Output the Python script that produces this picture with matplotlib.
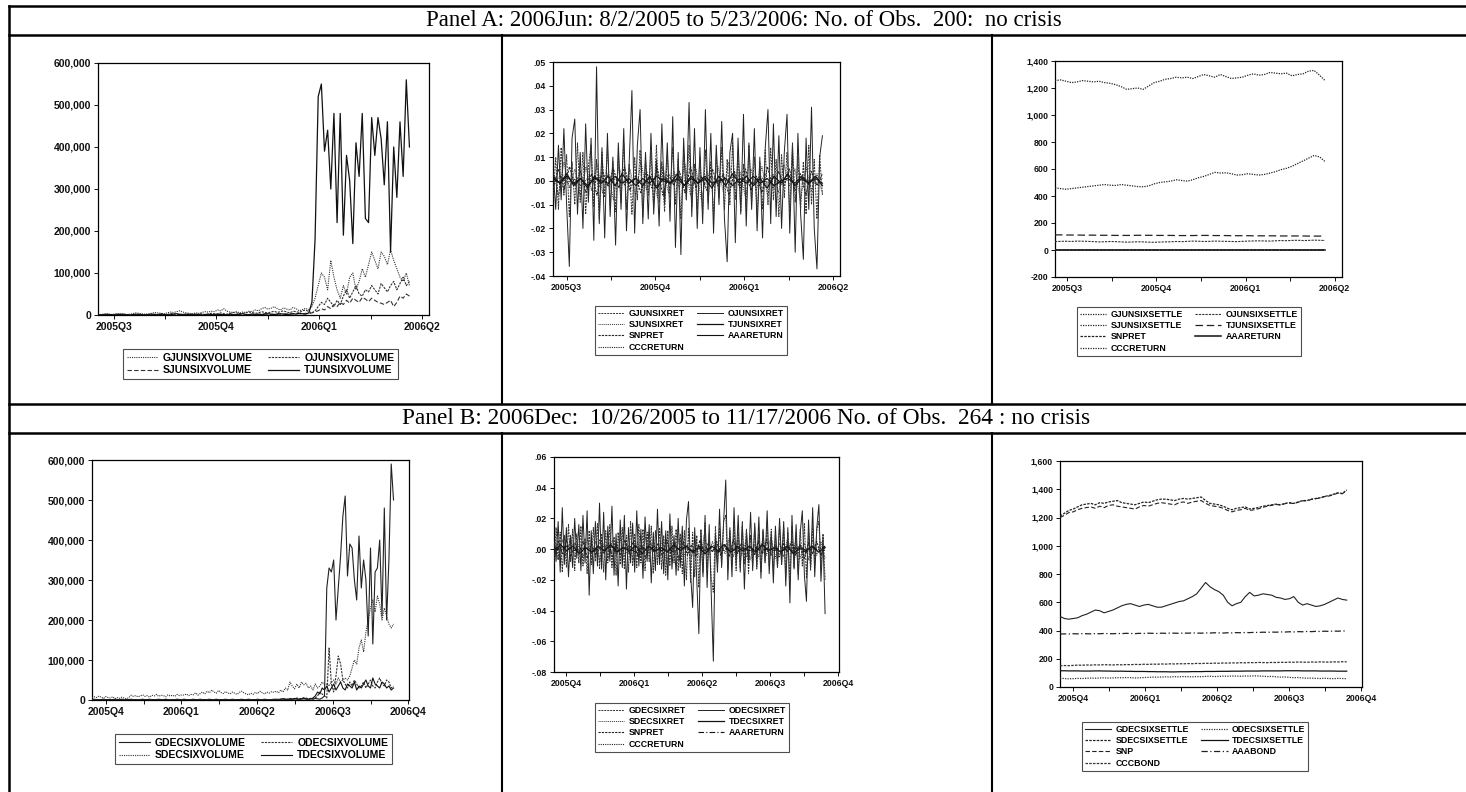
import numpy as np
import matplotlib.pyplot as plt

# ---------------- data ----------------
title_a = "Panel A: 2006Jun: 8/2/2005 to 5/23/2006: No. of Obs.  200:  no crisis"
title_b = "Panel B: 2006Dec:  10/26/2005 to 11/17/2006 No. of Obs.  264 : no crisis"

quarters_a = ["2005Q3", "2005Q4", "2006Q1", "2006Q2"]
quarters_b = ["2005Q4", "2006Q1", "2006Q2", "2006Q3", "2006Q4"]
nobs_a = 200
nobs_b = 264

# Panel A volumes, thousands of contracts (one value per 2 obs)
t_vol_a = [1, 0, 1, 2, 1, 0, 1, 1, 2, 1,
           0, 1, 2, 1, 1, 0, 1, 2, 1, 1,
           2, 1, 0, 1, 2, 3, 1, 1, 2, 1,
           1, 2, 1, 0, 1, 2, 1, 1, 2, 1,
           1, 0, 2, 1, 1, 2, 3, 1, 1, 2,
           1, 2, 1, 2, 3, 2, 1, 2, 3, 2,
           1, 2, 3, 2, 4, 3, 2, 5,
           30, 180, 520, 550, 390, 440, 300, 480, 220, 480,
           190, 380, 320, 170, 410, 330, 480, 230, 220, 470,
           380, 470, 420, 310, 460, 150, 400, 280, 460, 330,
           560, 400]
g_vol_a = [2, 1, 3, 2, 1, 2, 4, 3, 2, 1,
           2, 3, 5, 4, 3, 2, 3, 4, 6, 5,
           4, 3, 5, 7, 6, 8, 10, 7, 5, 4,
           3, 5, 4, 6, 8, 7, 9, 8, 12, 10,
           15, 9, 7, 6, 8, 5, 7, 6, 9, 8,
           12, 10, 15, 18, 14, 16, 20, 15, 12, 17,
           14, 12, 18, 15, 10, 13, 16, 12,
           20, 40, 70, 100, 90, 60, 130, 90, 60, 40,
           70, 50, 90, 100, 60, 80, 110, 90, 120, 150,
           130, 110, 150, 140, 120, 155, 130, 110, 90, 80,
           100, 70]
o_vol_a = [0, 1, 0, 1, 1, 0, 1, 2, 1, 0,
           1, 1, 0, 2, 1, 1, 0, 1, 2, 1,
           3, 2, 1, 4, 3, 2, 1, 2, 1, 3,
           2, 1, 2, 3, 1, 2, 4, 3, 2, 5,
           3, 2, 4, 6, 5, 3, 4, 5, 7, 6,
           4, 5, 8, 6, 5, 7, 9, 6, 8, 10,
           7, 5, 9, 8, 6, 10, 12, 8,
           5, 10, 20, 30, 25, 40, 30, 20, 35, 25,
           45, 60, 40, 55, 70, 50, 45, 60, 55, 70,
           60, 50, 75, 65, 55, 70, 80, 60, 75, 90,
           70, 80]
s_vol_a = [0, 0, 1, 0, 1, 0, 0, 1, 0, 1,
           0, 1, 0, 0, 1, 0, 1, 0, 1, 0,
           1, 0, 1, 1, 0, 1, 2, 1, 0, 1,
           1, 0, 1, 2, 1, 0, 1, 1, 2, 1,
           0, 1, 2, 1, 1, 2, 1, 0, 1, 2,
           2, 1, 2, 3, 2, 1, 2, 3, 2, 2,
           3, 2, 3, 4, 3, 2, 4, 3,
           5, 8, 10, 15, 12, 20, 15, 25, 20, 30,
           25, 35, 28, 40, 35, 30, 42, 38, 32, 40,
           35, 30, 28, 25, 30, 35, 20, 30, 45, 40,
           50, 45]

# Panel A returns, in thousandths
o_ret_a = [5, -12, 15, -8, 22, -10, -36, 18, 26, -14,
           12, -20, 24, -9, 18, -25, 48, -18, 14, -24,
           20, -15, 10, -27, 16, -12, 22, -21, 8, 38,
           -22, 15, 30, -18, 12, -16, 20, -14, 9, -19,
           24, -10, 16, -17, 27, -28, 12, -31, 18, -8,
           33, -15, 22, -20, 14, -18, 30, -12, 20, -22,
           15, -10, 25, -16, -34, 12, 20, -26, 18, -14,
           28, -19, 16, -12, 22, -21, 10, -24, 14, 30,
           -18, 24, -15, 19, -20, 12, 28, -22, 15, -30,
           20, -14, -33, 18, -12, 31, -20, -37, 10, 19]
g_ret_a = [-8, 10, -12, 14, -6, 11, -15, 8, -10, 16,
           -9, 12, -14, 6, 15, -11, 9, -16, 12, -7,
           14, -10, 8, -13, 11, -9, 16, -12, 7, -14,
           10, -8, 13, -15, 9, -6, 12, -11, 15, -9,
           8, -13, 11, -7, 14, -10, 9, -16, 12, -8,
           15, -11, 7, -12, 10, -14, 13, -9, 8, -15,
           11, -7, 14, -12, 9, -10, 16, -8, 12, -13,
           7, -11, 15, -9, 10, -14, 8, -12, 13, -10,
           14, -8, 9, -15, 11, -7, 12, -13, 16, -9,
           10, -12, 8, -14, 15, -10, 9, -16, 11, -6]
s_ret_a = [4, -6, 8, -3, 5, -7, 6, -4, 7, -5, 3, -8, 6, -2, 5, -6, 8, -4, 3, -7,
           6, -5, 4, -3, 7, -6, 5, -8, 4, -2, 6, -5, 8, -3, 4, -7, 5, -4, 6, -6,
           3, -5, 7, -2, 5, -8, 6, -4, 3, -5]
snp_ret_a = [-3, 5, -4, 6, -2, 4, -5, 3, -6, 4, -2, 5, -3, 6, -4, 2, -5, 4, -3, 5,
             -6, 3, -2, 4, -5, 6, -3, 2, -4, 5, -2, 3, -6, 4, -3, 5, -4, 2, -5, 6,
             -3, 4, -2, 5, -4, 3, -6, 4, -2, 3]
t_ret_a = [2, -1, 3, -2, 1, -3, 2, -1, 2, -2, 3, -1, 1, -2, 2, -3, 1, -1, 3, -2,
           2, -1, 1, -3, 2, -2, 3, -1, 2, -2, 1, -3, 2, -1, 3, -2, 1, -1, 2, -2]
aaa_ret_a = [1, -1, 2, -1, 1, -2, 1, 0, -1, 2, -1, 1, -2, 1, -1, 2, 0, -1, 1, -2,
             1, -1, 2, -1, 0, 1, -2, 1, -1, 2, -1, 1, -2, 0, 1, -1, 2, -1, 1, -1]
ccc_ret_a = [-1, 2, -1, 1, -2, 1, -1, 2, -2, 1, 0, -1, 2, -1, 1, -2, 2, -1, 1, 0,
             -2, 1, -1, 2, -1, 1, -2, 1, 0, -1, 2, -1, 1, -2, 1, -1, 2, 0, -1, 1]

# Panel A settlement prices
s_settle_a = [1255, 1260, 1250, 1240, 1245, 1255, 1250, 1245, 1250, 1240,
              1235, 1225, 1210, 1190, 1195, 1200, 1190, 1215, 1240, 1250,
              1265, 1270, 1280, 1275, 1280, 1270, 1285, 1300, 1290, 1280,
              1300, 1285, 1270, 1275, 1280, 1295, 1305, 1295, 1300, 1315,
              1310, 1305, 1310, 1290, 1300, 1305, 1325, 1330, 1295, 1255]
g_settle_a = [460, 455, 450, 455, 460, 465, 470, 475, 480, 485,
              480, 478, 485, 480, 475, 470, 468, 475, 490, 500,
              505, 510, 520, 515, 510, 520, 535, 545, 560, 575,
              570, 572, 565, 555, 558, 565, 560, 555, 560, 570,
              580, 595, 605, 620, 640, 660, 680, 700, 690, 655]
o_settle_a = [62, 64, 65, 63, 66, 65, 64, 62, 60, 61, 63, 62, 60, 58, 59, 61, 60, 58, 57, 59,
              60, 61, 63, 62, 64, 66, 65, 63, 64, 66, 65, 64, 63, 62, 64, 66, 67, 68, 67, 66,
              68, 70, 69, 71, 72, 70, 71, 73, 72, 70]
t_settle_a = [112, 112, 111, 111, 111, 110, 110, 110, 109, 109, 109, 108, 108, 108, 108, 109, 109, 109, 108, 108,
              108, 108, 107, 107, 107, 107, 108, 108, 108, 107, 107, 107, 106, 106, 106, 106, 105, 105, 105, 105,
              105, 104, 104, 104, 104, 104, 103, 103, 103, 103]

# Panel B volumes, thousands of contracts (one value per 2 obs)
g_vol_b = [1, 2, 1, 0, 1, 2, 1, 1, 0, 1,
           2, 1, 1, 2, 1, 0, 1, 2, 1, 1,
           0, 1, 2, 1, 1, 2, 1, 0, 1, 2,
           1, 1, 2, 1, 0, 1, 1, 2, 1, 1,
           2, 1, 0, 1, 2, 1, 1, 2, 1, 0,
           1, 2, 1, 1, 2, 1, 0, 1, 2, 1,
           1, 2, 1, 0, 1, 2, 1, 1, 2, 1,
           0, 1, 2, 1, 1, 2, 1, 0, 1, 2,
           1, 1, 2, 3, 1, 2, 1, 2, 3, 2,
           1, 2, 3, 2, 1, 3, 2, 4, 3, 2,
           5,
           10, 280, 330, 320, 350, 200, 280, 360, 460, 510,
           310, 390, 380, 300, 250, 410, 280, 350, 300, 160,
           380, 140, 320, 330, 400, 210, 480, 200, 350, 590, 500]
o_vol_b = [0, 1, 1, 0, 1, 0, 1, 1, 0, 1,
           1, 0, 1, 1, 0, 1, 0, 1, 1, 0,
           1, 1, 0, 1, 0, 1, 1, 0, 1, 1,
           0, 1, 1, 0, 1, 0, 1, 1, 0, 1,
           1, 0, 1, 1, 0, 1, 0, 1, 1, 0,
           1, 1, 0, 1, 0, 1, 1, 0, 1, 1,
           0, 1, 1, 0, 1, 0, 1, 1, 0, 1,
           1, 0, 1, 1, 0, 1, 0, 1, 1, 0,
           1, 2, 1, 2, 3, 2, 4, 3, 2, 5,
           3, 4, 6, 5, 3, 4, 2,
           5, 10, 20, 15, 10, 5, 130, 40, 20, 60,
           110, 90, 50, 40, 30, 45, 35, 50, 40, 30,
           35, 45, 30, 40, 50, 35, 30, 45, 55, 40,
           35, 50, 45, 30, 35]
s_vol_b = [5, 8, 6, 10, 7, 4, 9, 6, 5, 8,
           3, 6, 4, 7, 5, 3, 6, 12, 9, 11,
           8, 10, 13, 9, 11, 7, 12, 10, 14, 9,
           12, 11, 8, 13, 10, 12, 9, 14, 11, 13,
           12, 15, 11, 14, 13, 18, 12, 16, 20, 15,
           22, 18, 25, 20, 17, 24, 19, 16, 21, 18,
           15, 20, 17, 14, 19, 22, 18, 15, 13, 17,
           14, 19, 16, 22, 18, 15, 20, 17, 21, 19,
           22, 18, 25, 20, 30, 24, 45, 35, 28, 40,
           30, 45, 38, 42, 30, 35, 25, 40, 30, 35,
           45, 38,
           40, 35, 45, 50, 40, 55, 45, 50, 55, 50,
           60, 80, 100, 90, 130, 150, 120, 170, 200, 230,
           250, 220, 260, 240, 200, 230, 210, 190, 180, 190]
t_vol_b = [1, 0, 1, 1, 0, 1, 0, 1, 1, 0,
           1, 1, 0, 1, 0, 1, 1, 0, 1, 1,
           0, 1, 1, 0, 1, 0, 1, 1, 0, 1,
           1, 0, 1, 1, 0, 1, 0, 1, 1, 0,
           1, 1, 0, 1, 0, 1, 1, 0, 1, 1,
           0, 1, 1, 0, 1, 0, 1, 1, 0, 1,
           1, 0, 1, 1, 0, 1, 0, 1, 1, 0,
           1, 1, 0, 1, 0, 1, 1, 0, 1, 1,
           2, 1, 2, 3, 2, 1, 3, 2, 4, 3,
           2, 3, 4, 3, 2,
           3, 5, 10, 20, 15, 30, 25, 35, 20, 30,
           40, 25, 35, 45, 30, 25, 40, 35, 30, 45,
           25, 35, 30, 40, 50, 35, 30, 55, 40, 35,
           30, 45, 40, 30, 35, 25, 30]

# Panel B returns, in thousandths
o_ret_b = [12, -8, 18, -15, 27, -10, 14, -18, 9, -12,
           20, -6, 16, -14, 22, -9, 25, -30, 12, -16,
           18, -11, 30, -13, 24, -20, 15, -8, 28, -17,
           10, -24, 19, -12, 22, -26, 14, -9, 17, -15,
           25, -11, 13, -19, 21, -8, 16, -22, 11, -14,
           26, -10, 18, -16, 12, -20, 23, -13, 9, -17,
           20, -12, 15, -24, 19, 31, -16, -38, 14, -20,
           -55, 12, -18, 22, -25, 16, -30, -73, 10, -15,
           26, -12, 19, 45, -20, 14, -18, 27, -10, 22,
           -15, 18, -26, 12, -9, 24, -14, 17, -11, 21,
           -19, 13, -8, 25, -16, 11, -22, 15, -12, 20,
           -10, 18, -24, 14, -35, 22, -13, 16, -20, 11,
           25, -17, -34, 19, -12, 27, -18, 14, 29, -21,
           8, -42]
g_ret_b = [-10, 14, -7, 11, -15, 9, -12, 16, -8, 13,
           -14, 10, -9, 15, -11, 7, -16, 12, -10, 14,
           -8, 17, -13, 10, -15, 12, -9, 16, -12, 8,
           -17, 11, -10, 14, -13, 9, -15, 18, -11, 10,
           -12, 16, -9, 13, -14, 11, -8, 15, -16, 12,
           -10, 14, -13, 9, -17, 12, -11, 15, -9, 13,
           -14, 10, -16, 12, -20, 14, -22, 11, -18, 9,
           -25, 13, -15, 17, -12, 10, -19, -28, 15, -11,
           14, -10, 18, 22, -13, 12, -9, 16, -14, 11,
           -12, 15, -10, 13, -16, 9, -11, 14, -13, 10,
           -15, 12, -9, 17, -11, 13, -14, 10, -12, 16,
           -10, 14, -17, 11, -20, 15, -12, 9, -16, 13,
           -11, 17, -19, 12, -14, 15, -10, 13, 18, -12,
           10, -20]
s_ret_b = [5, -7, 6, -4, 8, -5, 3, -6, 7, -3, 5, -8, 4, -6, 6, -4, 7, -5, 3, -7,
           5, -6, 8, -3, 4, -5, 6, -9, 5, -4, 7, -6, 3, -5, 6, -8, 9, -4, 5, -6,
           4, -3, 7, -5, 6, -4, 5, -7, 3, -5, 6, -4, 8, -6, 4, -5, 7, -3, 5, -6,
           4, -7, 6, -4, 5, -6]
snp_ret_b = [-4, 5, -3, 6, -5, 4, -2, 5, -6, 3, -4, 6, -3, 4, -5, 2, -4, 6, -3, 5,
             -4, 3, -6, 5, -2, 4, -5, 6, -3, 4, -7, 5, -4, 3, -5, 6, -3, 4, -2, 5,
             -4, 3, -5, 6, -3, 4, -5, 2, -4, 5, -3, 6, -4, 3, -5, 4, -2, 5, -4, 3,
             -6, 4, -3, 5, -4, 2]
t_ret_b = [-2, 3, -1, 2, -3, 1, -2, 2, -1, 3, -2, 1, -1, 2, -3, 2, -1, 1, -2, 3, -1, 2,
           -2, 1, -3, 2, -1, 3, -2, 1, -1, 2, -2, 3, -1, 1, -2, 2, -3, 1, -1, 2, -2, 1]
aaa_ret_b = [1, -1, 2, -1, 0, 1, -2, 1, -1, 2, -1, 1, 0, -2, 1, -1, 2, -1, 1, -2, 1, 0,
             -1, 2, -1, 1, -2, 1, -1, 2, 0, -1, 1, -2, 1, -1, 2, -1, 1, 0, -2, 1, -1, 2]
ccc_ret_b = [-1, 1, -2, 2, -1, 1, 0, -1, 2, -2, 1, -1, 2, -1, 0, 1, -2, 1, -1, 2, -1, 1,
             -2, 0, 1, -1, 2, -1, 1, -2, 1, -1, 0, 2, -1, 1, -2, 1, -1, 2, -1, 0, 1, -1]

# Panel B settlement prices / index levels (one value per 4 obs)
s_settle_b = [1210, 1230, 1250, 1260, 1275, 1290, 1295, 1300, 1290, 1305,
              1300, 1310, 1315, 1320, 1305, 1300, 1295, 1290, 1300, 1310,
              1305, 1315, 1325, 1330, 1330, 1325, 1320, 1330, 1335, 1330,
              1335, 1340, 1345, 1320, 1300, 1295, 1290, 1280, 1265, 1255,
              1265, 1270, 1275, 1260, 1265, 1270, 1280, 1285, 1290, 1295,
              1290, 1300, 1305, 1300, 1310, 1320, 1320, 1330, 1335, 1340,
              1350, 1355, 1365, 1375, 1370, 1395]
snp_level_b = [1200, 1215, 1235, 1240, 1255, 1265, 1270, 1275, 1265, 1280,
               1270, 1285, 1290, 1280, 1275, 1270, 1265, 1260, 1275, 1285,
               1280, 1290, 1300, 1305, 1300, 1295, 1290, 1305, 1310, 1300,
               1310, 1315, 1320, 1300, 1285, 1280, 1275, 1265, 1250, 1240,
               1250, 1255, 1265, 1250, 1255, 1262, 1272, 1280, 1286, 1292,
               1288, 1298, 1303, 1298, 1308, 1318, 1318, 1328, 1333, 1338,
               1348, 1352, 1362, 1372, 1368, 1392]
g_settle_b = [500, 485, 480, 485, 490, 505, 515, 530, 545, 540,
              525, 535, 545, 560, 575, 585, 590, 580, 570, 580,
              585, 575, 565, 565, 575, 585, 595, 605, 610, 625,
              640, 660, 700, 740, 710, 690, 675, 650, 600, 575,
              590, 600, 640, 670, 645, 650, 660, 655, 650, 635,
              630, 620, 625, 640, 600, 580, 590, 580, 570, 575,
              585, 600, 615, 630, 620, 615]
aaa_bond_b = [375, 376, 375, 377, 376, 378, 377, 376, 378, 377, 379, 378, 377, 379, 378, 380, 379, 378, 380, 379,
              381, 380, 379, 381, 380, 382, 381, 380, 382, 381, 383, 382, 381, 383, 382, 384, 383, 382, 384, 383,
              385, 384, 386, 385, 387, 386, 388, 387, 389, 388, 390, 389, 391, 390, 392, 391, 393, 392, 394, 393,
              395, 394, 396, 395, 397, 396]
ccc_bond_b = [150, 152, 151, 153, 155, 154, 156, 155, 157, 156, 158, 157, 156, 158, 157, 159, 158, 160, 159, 161,
              160, 162, 161, 163, 162, 164, 163, 165, 164, 166, 165, 167, 166, 168, 167, 169, 168, 170, 169, 171,
              170, 172, 171, 173, 172, 174, 173, 172, 174, 173, 175, 174, 176, 175, 177, 176, 175, 177, 176, 178,
              177, 176, 178, 177, 179, 178]
t_settle_b = [115, 115, 114, 114, 114, 113, 113, 113, 114, 114, 113, 113, 112, 112, 112, 111, 111, 110, 110, 110,
              109, 109, 108, 108, 108, 107, 107, 108, 108, 108, 109, 109, 109, 110, 110, 110, 111, 111, 111, 112,
              112, 112, 113, 113, 113, 113, 114, 114, 114, 114, 114, 115, 115, 115, 115, 114, 114, 114, 114, 113,
              113, 113, 113, 112, 112, 112]
o_settle_b = [62, 60, 58, 59, 61, 60, 62, 63, 62, 64, 65, 63, 64, 66, 65, 67, 66, 64, 65, 67,
              68, 70, 69, 71, 72, 71, 73, 72, 74, 73, 72, 74, 73, 75, 76, 74, 75, 77, 76, 78,
              77, 76, 78, 77, 79, 78, 76, 74, 75, 72, 70, 71, 68, 66, 67, 64, 62, 63, 61, 60,
              62, 60, 59, 61, 60, 59]

# ---------------- figure ----------------
W, H = 1466, 792
plt.rcParams['font.family'] = 'Liberation Sans'
plt.rcParams['font.weight'] = 'bold'
fig = plt.figure(figsize=(W / 100, H / 100), dpi=100)

# page overlay in pixel coordinates (table grid and panel titles)
page = fig.add_axes([0, 0, 1, 1], zorder=-5)
page.set_xlim(0, W)
page.set_ylim(H, 0)
page.axis('off')
for yy in (6, 35, 404, 433):
    page.plot([9, W], [yy, yy], color='k', lw=1.8)
page.plot([9, 9], [6, H], color='k', lw=1.8)
for xx in (502, 992):
    page.plot([xx, xx], [35, 404], color='k', lw=1.5)
    page.plot([xx, xx], [433, H], color='k', lw=1.5)
page.text(744, 21, title_a, ha='center', va='center', fontsize=16.5,
          family='Liberation Serif', fontweight='normal')
page.text(746, 419, title_b, ha='center', va='center', fontsize=16.8,
          family='Liberation Serif', fontweight='normal')

SOLID = '-'
DOT = (0, (1, 1))
DOT2 = (0, (2, 1))
DASH = (0, (4, 2))
DASHDOT = (0, (5, 2, 1, 2))


def fmt_int(v):
    return f"{v:,.0f}"


def fmt_ret(v):
    s = f"{v:.2f}".replace("0.", ".", 1)
    return ".00" if s == "-.00" else s


def chart(box, series, nobs, xmax, qlabels, q0, qstep, ylim, ystep, yfmt, fs,
          leg_xy, leg_order, leg_fs):
    l, t, r, b = box
    ax = fig.add_axes([l / W, 1 - b / H, (r - l) / W, (b - t) / H])
    lines = {}
    for name, vals, ls, lw, col, z in series:
        x = np.linspace(0, nobs - 1, len(vals))
        ln, = ax.plot(x, vals, ls=ls, lw=lw, color=col, zorder=z, label=name)
        lines[name] = ln
    ax.set_xlim(0, xmax)
    ax.set_ylim(*ylim)
    qpos = q0 + qstep * np.arange(len(qlabels))
    ax.set_xticks(qpos)
    ax.set_xticklabels(qlabels)
    ax.set_xticks(qpos[:-1] + qstep / 2, minor=True)
    yt = np.arange(ylim[0], ylim[1] + ystep / 2, ystep)
    ax.set_yticks(yt)
    ax.set_yticklabels([yfmt(v) for v in yt])
    ax.tick_params(which='both', direction='out', length=3, width=0.7,
                   labelsize=fs, pad=2, colors='#111111')
    for sp in ax.spines.values():
        sp.set_linewidth(0.9)
    hs = [lines[n] for n in leg_order]
    leg = ax.legend(hs, leg_order, ncol=2, loc='upper left',
                    bbox_to_anchor=(leg_xy[0] / W, 1 - leg_xy[1] / H),
                    bbox_transform=fig.transFigure, borderaxespad=0,
                    frameon=True, fancybox=False, fontsize=leg_fs,
                    handlelength=3.0, handletextpad=0.5, columnspacing=1.4,
                    labelspacing=0.25, borderpad=0.35)
    leg.get_frame().set_edgecolor('#222222')
    leg.get_frame().set_linewidth(0.8)
    return ax


k = 1000.0
pm = 1 / 1000.0

# Panel A, volume
chart((98, 63, 429, 315),
      [("GJUNSIXVOLUME", np.array(g_vol_a) * k, DOT, 0.8, '#333333', 3),
       ("OJUNSIXVOLUME", np.array(o_vol_a) * k, DOT2, 0.8, '#333333', 3),
       ("SJUNSIXVOLUME", np.array(s_vol_a) * k, DASH, 0.8, '#333333', 3),
       ("TJUNSIXVOLUME", np.array(t_vol_a) * k, SOLID, 0.9, '#111111', 4)],
      nobs_a, 211.5, quarters_a, 10, 65.7, (0, 600000), 100000, fmt_int, 7.5,
      (123, 349), ["GJUNSIXVOLUME", "SJUNSIXVOLUME", "OJUNSIXVOLUME", "TJUNSIXVOLUME"], 7.5)

# Panel A, returns
chart((553, 62, 840, 276),
      [("GJUNSIXRET", np.array(g_ret_a) * pm, DOT2, 0.7, '#333333', 3),
       ("OJUNSIXRET", np.array(o_ret_a) * pm, SOLID, 0.7, '#222222', 2),
       ("SJUNSIXRET", np.array(s_ret_a) * pm, DOT, 0.7, '#333333', 4),
       ("TJUNSIXRET", np.array(t_ret_a) * pm, SOLID, 0.9, '#111111', 5),
       ("SNPRET", np.array(snp_ret_a) * pm, DOT2, 0.8, '#222222', 5),
       ("AAARETURN", np.array(aaa_ret_a) * pm, SOLID, 0.8, '#111111', 6),
       ("CCCRETURN", np.array(ccc_ret_a) * pm, DOT, 0.8, '#222222', 6)],
      nobs_a, 212, quarters_a, 10, 65.7, (-0.04, 0.05), 0.01, fmt_ret, 6.3,
      (595, 306), ["GJUNSIXRET", "SJUNSIXRET", "SNPRET", "CCCRETURN",
                   "OJUNSIXRET", "TJUNSIXRET", "AAARETURN"], 6.3)

# Panel A, settlement prices
chart((1055, 61, 1342, 277),
      [("GJUNSIXSETTLE", g_settle_a, DOT, 0.9, '#222222', 3),
       ("OJUNSIXSETTLE", o_settle_a, DOT2, 0.8, '#333333', 3),
       ("SJUNSIXSETTLE", s_settle_a, DOT, 0.9, '#222222', 3),
       ("TJUNSIXSETTLE", t_settle_a, (0, (6, 3)), 0.9, '#222222', 3),
       ("SNPRET", np.array(snp_ret_a) * pm, DOT2, 0.9, '#222222', 4),
       ("AAARETURN", np.array(aaa_ret_a) * pm, SOLID, 1.1, '#111111', 4),
       ("CCCRETURN", np.array(ccc_ret_a) * pm, DOT, 0.9, '#222222', 4)],
      nobs_a, 211.5, quarters_a, 9, 65.7, (-200, 1400), 200, fmt_int, 6.3,
      (1077, 307), ["GJUNSIXSETTLE", "SJUNSIXSETTLE", "SNPRET", "CCCRETURN",
                    "OJUNSIXSETTLE", "TJUNSIXSETTLE", "AAARETURN"], 6.3)

# Panel B, volume
chart((92, 460, 409, 700),
      [("GDECSIXVOLUME", np.array(g_vol_b) * k, SOLID, 0.8, '#222222', 4),
       ("ODECSIXVOLUME", np.array(o_vol_b) * k, DOT2, 0.8, '#333333', 3),
       ("SDECSIXVOLUME", np.array(s_vol_b) * k, DOT, 0.8, '#333333', 3),
       ("TDECSIXVOLUME", np.array(t_vol_b) * k, SOLID, 0.8, '#111111', 3)],
      nobs_b, 276.5, quarters_b, 12, 66, (0, 600000), 100000, fmt_int, 7.5,
      (115, 734), ["GDECSIXVOLUME", "SDECSIXVOLUME", "ODECSIXVOLUME", "TDECSIXVOLUME"], 7.5)

# Panel B, returns
chart((554, 457, 839, 672),
      [("GDECSIXRET", np.array(g_ret_b) * pm, DOT2, 0.7, '#333333', 3),
       ("ODECSIXRET", np.array(o_ret_b) * pm, SOLID, 0.7, '#222222', 2),
       ("SDECSIXRET", np.array(s_ret_b) * pm, DOT, 0.7, '#333333', 4),
       ("TDECSIXRET", np.array(t_ret_b) * pm, SOLID, 0.9, '#111111', 5),
       ("SNPRET", np.array(snp_ret_b) * pm, DOT2, 0.8, '#222222', 5),
       ("AAARETURN", np.array(aaa_ret_b) * pm, DASHDOT, 0.8, '#111111', 6),
       ("CCCRETURN", np.array(ccc_ret_b) * pm, DOT, 0.8, '#222222', 6)],
      nobs_b, 276.5, quarters_b, 12, 66, (-0.08, 0.06), 0.02, fmt_ret, 6.3,
      (595, 703), ["GDECSIXRET", "SDECSIXRET", "SNPRET", "CCCRETURN",
                   "ODECSIXRET", "TDECSIXRET", "AAARETURN"], 6.3)

# Panel B, settlement prices and cash series
chart((1060, 461, 1362, 687),
      [("GDECSIXSETTLE", g_settle_b, SOLID, 0.8, '#222222', 3),
       ("ODECSIXSETTLE", o_settle_b, DOT, 0.9, '#333333', 3),
       ("SDECSIXSETTLE", s_settle_b, DOT2, 0.9, '#222222', 3),
       ("TDECSIXSETTLE", t_settle_b, SOLID, 0.9, '#111111', 3),
       ("SNP", snp_level_b, DASH, 0.8, '#222222', 3),
       ("AAABOND", aaa_bond_b, DASHDOT, 0.9, '#222222', 3),
       ("CCCBOND", ccc_bond_b, DOT2, 0.9, '#333333', 3)],
      nobs_b, 277, quarters_b, 12, 66, (0, 1600), 200, fmt_int, 6.3,
      (1082, 722), ["GDECSIXSETTLE", "SDECSIXSETTLE", "SNP", "CCCBOND",
                    "ODECSIXSETTLE", "TDECSIXSETTLE", "AAABOND"], 6.3)

fig.savefig("out.png", dpi=100)
